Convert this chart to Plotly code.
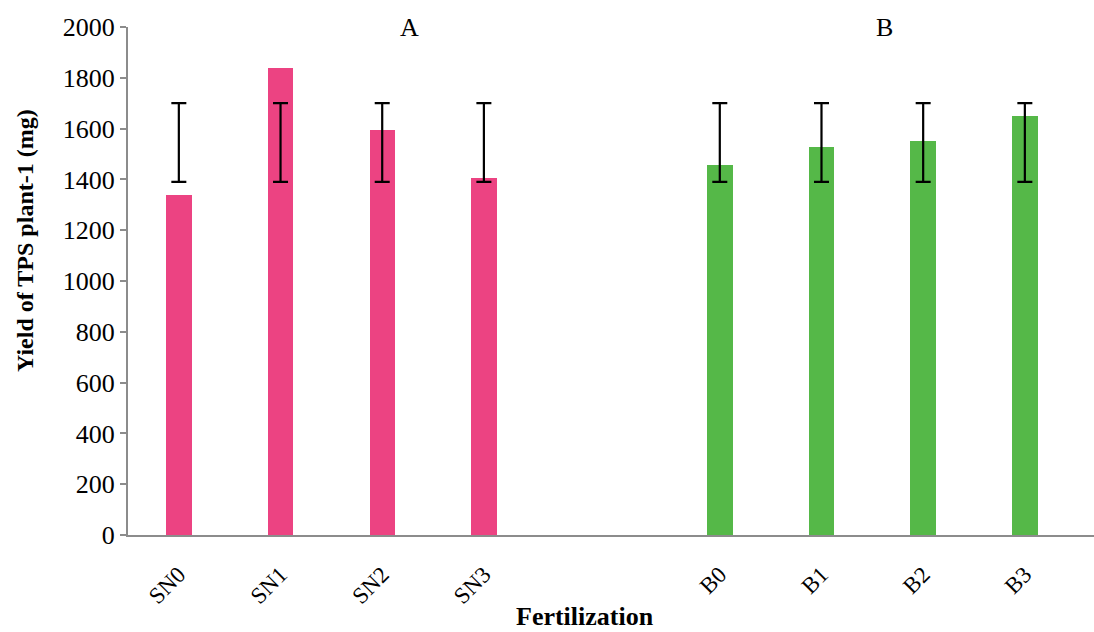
import plotly.graph_objects as go

# ---- data ----
group_a_labels = ["SN0", "SN1", "SN2", "SN3"]
group_a_values = [1340, 1838, 1595, 1405]
group_b_labels = ["B0", "B1", "B2", "B3"]
group_b_values = [1457, 1527, 1551, 1650]
err_low = [1390, 1390, 1390, 1390]
err_high = [1700, 1700, 1700, 1700]

# ---- layout positions ----
group_gap = 2.32
xa = list(range(len(group_a_labels)))
xb = [i + len(group_a_labels) - 1 + group_gap for i in range(len(group_b_labels))]

PINK = "#EC4382"
GREEN = "#55B848"
FONT = "Liberation Serif, Times New Roman, serif"

fig = go.Figure()
fig.add_trace(go.Bar(x=xa, y=group_a_values, marker=dict(color=PINK, line=dict(width=0)),
                     width=0.25, showlegend=False))
fig.add_trace(go.Bar(x=xb, y=group_b_values, marker=dict(color=GREEN, line=dict(width=0)),
                     width=0.25, showlegend=False))

all_x = xa + xb
lows = err_low + err_low
highs = err_high + err_high
mids = [(lo + hi) / 2 for lo, hi in zip(lows, highs)]
halfs = [(hi - lo) / 2 for lo, hi in zip(lows, highs)]
fig.add_trace(go.Scatter(x=all_x, y=mids, mode="markers", marker=dict(size=0.1, opacity=0),
                         error_y=dict(type="data", array=halfs, symmetric=True,
                                      color="black", thickness=2.2, width=7.5),
                         showlegend=False, hoverinfo="skip"))

fig.add_annotation(x=2.27, y=2000, text="A", showarrow=False, xref="x", yref="y",
                   font=dict(family=FONT, size=26, color="black"), yanchor="middle")
fig.add_annotation(x=6.94, y=2000, text="B", showarrow=False, xref="x", yref="y",
                   font=dict(family=FONT, size=26, color="black"), yanchor="middle")

# axis titles as annotations (positioned like the reference)
fig.add_annotation(x=-0.1065, y=0.579, xref="paper", yref="paper", xanchor="center", yanchor="middle",
                   text="<b>Yield of TPS plant-1 (mg)</b>", textangle=-90, showarrow=False,
                   font=dict(family=FONT, size=24, color="black"))
fig.add_annotation(x=0.4726, y=-0.16, xref="paper", yref="paper", xanchor="center", yanchor="middle",
                   text="<b>Fertilization</b>", showarrow=False,
                   font=dict(family=FONT, size=26, color="black"))

fig.update_layout(
    width=1094, height=632,
    margin=dict(l=128, r=0, t=27, b=97),
    plot_bgcolor="white", paper_bgcolor="white",
    font=dict(family=FONT, color="black"),
    bargap=0,
)
fig.update_xaxes(
    range=[-0.5, 9.0],
    tickvals=all_x, ticktext=group_a_labels + group_b_labels,
    tickangle=-45, tickfont=dict(size=23, family=FONT),
    showgrid=False, zeroline=False,
    showline=True, linecolor="#8c8c8c", linewidth=2,
    ticks="outside", ticklen=15, tickcolor="rgba(0,0,0,0)",
)
fig.update_yaxes(
    range=[0, 2000], dtick=200, tick0=0,
    tickfont=dict(size=26, family=FONT),
    showgrid=False, zeroline=False,
    showline=True, linecolor="#8c8c8c", linewidth=2,
    ticks="outside", ticklen=6, tickcolor="#8c8c8c", tickwidth=2,
)

fig.write_html("out.html")
